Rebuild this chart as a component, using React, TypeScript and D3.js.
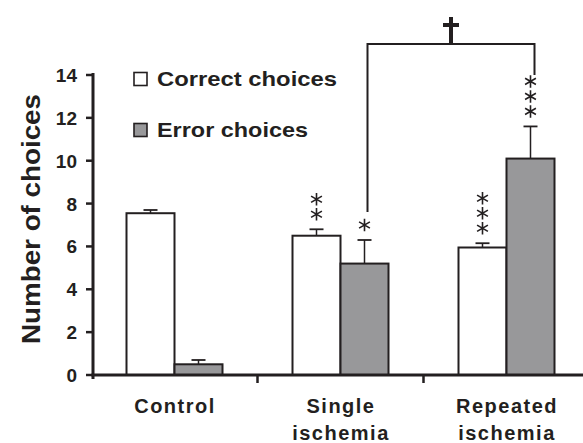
import React from 'react';
import * as d3 from 'd3';

const groups = ['Control', 'Single ischemia', 'Repeated ischemia'];
const labelLines = [['Control'], ['Single', 'ischemia'], ['Repeated', 'ischemia']];
const correctMean = [7.55, 6.5, 5.95];
const correctErr = [0.15, 0.3, 0.2];
const errorMean = [0.5, 5.2, 10.1];
const errorErr = [0.2, 1.1, 1.5];
const correctStars = [0, 2, 3];
const errorStars = [0, 1, 3];
const yTicks = [0, 2, 4, 6, 8, 10, 12, 14];

const W = 583, H = 443;
const dark = '#231f20';
const grayFill = '#98989a';

export default function App() {
  const y = d3.scaleLinear().domain([0, 14]).range([375, 75]);
  const x = d3.scaleBand().domain(groups).range([93, 591]);
  const inner = d3.scaleBand().domain(['correct', 'error']).range([0, 96]);
  const bw = inner.bandwidth();
  const font = 'Liberation Sans, Arial, sans-serif';
  const star = d3.symbol(d3.symbolAsterisk, 110)();

  const pairLeft = (g: string) => (x(g) as number) + x.bandwidth() / 2 - 48 - 1.5;

  const bars: any[] = [];
  groups.forEach((g, i) => {
    [
      { key: 'correct', m: correctMean[i], e: correctErr[i], fill: '#fff', n: correctStars[i] },
      { key: 'error', m: errorMean[i], e: errorErr[i], fill: grayFill, n: errorStars[i] },
    ].forEach(s => {
      const x0 = pairLeft(g) + (inner(s.key) as number);
      const cx = x0 + bw / 2;
      const capY = y(s.m + s.e);
      bars.push(
        <g key={g + s.key}>
          <line x1={cx} x2={cx} y1={y(s.m)} y2={capY} stroke={dark} strokeWidth={1.5} />
          <line x1={cx - 7} x2={cx + 7} y1={capY} y2={capY} stroke={dark} strokeWidth={1.8} />
          <rect x={x0} y={y(s.m)} width={bw} height={y(0) - y(s.m)} fill={s.fill} stroke={dark} strokeWidth={2} />
          {d3.range(s.n).map(k => (
            <path key={k} d={star as string} transform={`translate(${cx},${capY - 15 - k * 15})`}
              fill="none" stroke={dark} strokeWidth={1.6} />
          ))}
        </g>
      );
    });
  });

  // bracket between Single error and Repeated error
  const bx1 = pairLeft(groups[1]) + 96 - 21;
  const bx2 = pairLeft(groups[2]) + (inner('error') as number) + bw / 2 + 4;
  const bTop = 44;
  const bmid = (bx1 + bx2) / 2;

  return (
    <svg width={W} height={H} style={{ position: 'absolute', left: 0, top: 0 }}>
      <rect width={W} height={H} fill="#fff" />
      {bars}
      {/* axes */}
      <line x1={93} x2={93} y1={y(14) - 2} y2={y(0) + 4} stroke={dark} strokeWidth={3} />
      <line x1={91.5} x2={W} y1={y(0)} y2={y(0)} stroke={dark} strokeWidth={3} />
      {yTicks.map(t => (
        <g key={t}>
          <line x1={86} x2={93} y1={y(t)} y2={y(t)} stroke={dark} strokeWidth={2.5} />
          <text x={77} y={y(t) + 7} textAnchor="end" fontFamily={font} fontWeight="bold" fontSize={19} fill={dark}>{t}</text>
        </g>
      ))}
      {groups.slice(1).map(g => (
        <line key={g} x1={(x(g) as number) - 1.5} x2={(x(g) as number) - 1.5} y1={y(0)} y2={y(0) + 8} stroke={dark} strokeWidth={2.5} />
      ))}
      {groups.map((g, i) => {
        const cx = (x(g) as number) + x.bandwidth() / 2 - 1;
        return (
          <text key={g} fontFamily={font} fontWeight="bold" fontSize={20}
            fill={dark} textAnchor="middle" letterSpacing={1.5}>
            {labelLines[i].map((l, k) => (
              <tspan key={k} x={cx} y={413 + k * 27}>{l}</tspan>
            ))}
          </text>
        );
      })}
      <text transform="translate(40,219) rotate(-90)" textAnchor="middle" fontFamily={font} fontWeight="bold"
        fontSize={26} fill={dark} textLength={250} lengthAdjust="spacingAndGlyphs">Number of choices</text>
      {/* legend */}
      <rect x={134} y={72.5} width={13} height={13} fill="#fff" stroke={dark} strokeWidth={1.6} />
      <text x={157} y={86} fontFamily={font} fontWeight="bold" fontSize={21} fill={dark}
        textLength={180} lengthAdjust="spacingAndGlyphs">Correct choices</text>
      <rect x={134} y={123.5} width={13} height={13} fill={grayFill} stroke={dark} strokeWidth={1.6} />
      <text x={157} y={137} fontFamily={font} fontWeight="bold" fontSize={21} fill={dark}
        textLength={151} lengthAdjust="spacingAndGlyphs">Error choices</text>
      {/* significance bracket */}
      <path d={`M${bx1},212V${bTop}H${bx2}V75`} fill="none" stroke={dark} strokeWidth={2} />
      <line x1={bmid} x2={bmid} y1={17} y2={bTop} stroke={dark} strokeWidth={4} />
      <line x1={bmid - 8} x2={bmid + 8} y1={25} y2={25} stroke={dark} strokeWidth={4} />
    </svg>
  );
}
